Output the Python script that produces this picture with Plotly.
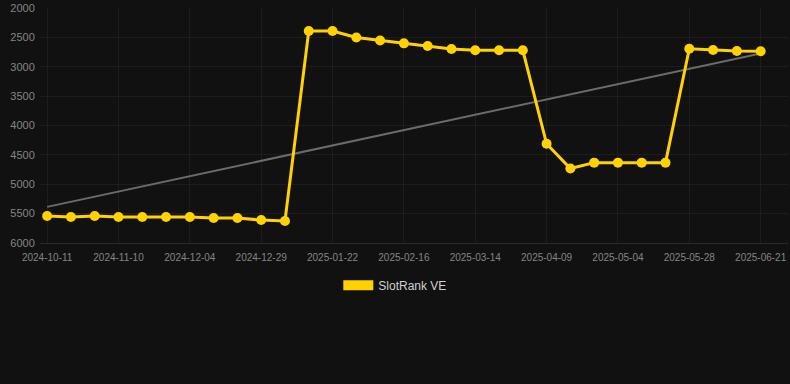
import plotly.graph_objects as go

dates = [
    "2024-10-11", "2024-10-21", "2024-10-31", "2024-11-10", "2024-11-18", "2024-11-26",
    "2024-12-04", "2024-12-12", "2024-12-20", "2024-12-29", "2025-01-06", "2025-01-14",
    "2025-01-22", "2025-01-30", "2025-02-08", "2025-02-16", "2025-02-24", "2025-03-06",
    "2025-03-14", "2025-03-22", "2025-03-31", "2025-04-09", "2025-04-17", "2025-04-26",
    "2025-05-04", "2025-05-12", "2025-05-20", "2025-05-28", "2025-06-05", "2025-06-13",
    "2025-06-21",
]
ranks = [
    5544, 5561, 5544, 5561, 5561, 5561, 5561, 5578, 5578, 5612, 5629,
    2390, 2390, 2500, 2550, 2600, 2645, 2695, 2718, 2718, 2718,
    4312, 4734, 4633, 4633, 4633, 4633,
    2692, 2712, 2730, 2735,
]
trend_dates = [dates[0], dates[-1]]
trend_values = [5387, 2771]
tick_dates = dates[::3]
y_ticks = [2000, 2500, 3000, 3500, 4000, 4500, 5000, 5500, 6000]

YELLOW = "#FFD200"
BG = "#111111"
GRID = "#1d1d1d"
fig = go.Figure()
fig.add_trace(go.Scatter(
    x=trend_dates, y=trend_values, mode="lines",
    line=dict(color="#6b6b6b", width=2), showlegend=False, hoverinfo="skip"))
fig.add_trace(go.Scatter(
    x=dates, y=ranks, mode="lines+markers",
    line=dict(color=YELLOW, width=3), marker=dict(color=YELLOW, size=10),
    showlegend=False))
fig.add_trace(go.Scatter(
    x=[None], y=[None], mode="lines", name="SlotRank VE",
    line=dict(color=YELLOW, width=11)))

fig.update_layout(
    width=790, height=384,
    paper_bgcolor=BG, plot_bgcolor=BG,
    margin=dict(l=40, r=2, t=6, b=141),
    font=dict(family="Liberation Sans, Arial, sans-serif", color="#858585", size=11),
    legend=dict(orientation="h", x=0.475, xanchor="center", y=-0.118, yanchor="top",
                font=dict(color="#d0d0d0", size=12), bgcolor="rgba(0,0,0,0)"),
    xaxis=dict(type="category", categoryorder="array", categoryarray=dates,
               range=[-0.3, 31.15], tickvals=tick_dates, ticktext=tick_dates,
               showgrid=True, gridcolor=GRID, gridwidth=1, zeroline=False,
               tickfont=dict(size=10, color="#858585"), ticks="outside",
               ticklen=5, tickcolor=BG, showline=True, linecolor="#2a2a2a",
               linewidth=1),
    yaxis=dict(range=[6003, 1997], tickvals=y_ticks, showgrid=True,
               gridcolor=GRID, gridwidth=1, zeroline=False, ticks="outside",
               ticklen=2, tickcolor=BG,
               tickfont=dict(size=11, color="#858585"), showline=False),
)
fig.write_html("out.html", config={"displayModeBar": False},
               post_script="document.body.style.margin='0';document.body.style.background='#111111';")
